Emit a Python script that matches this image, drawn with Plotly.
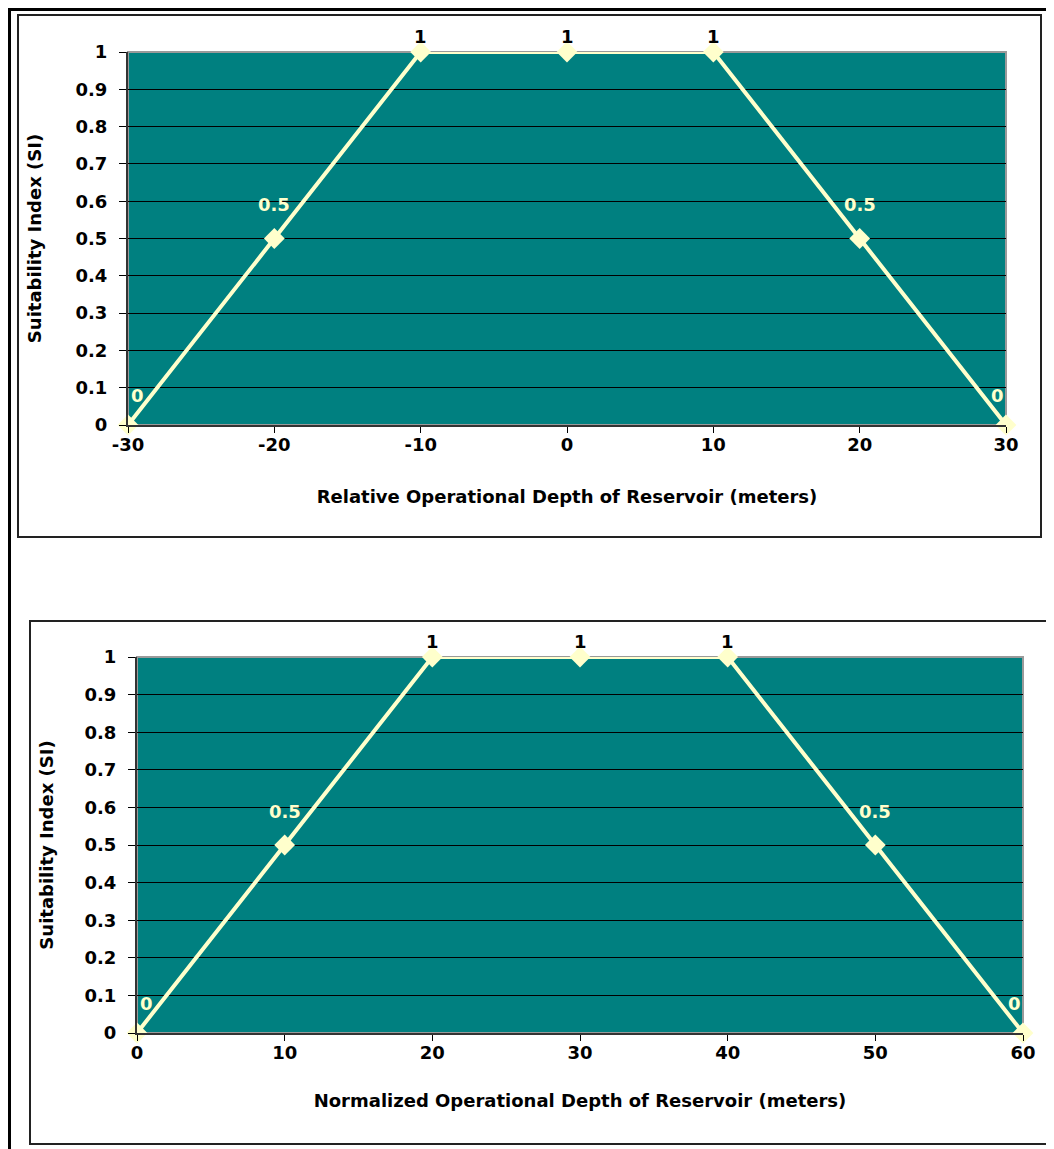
import plotly.graph_objects as go

# data
x_relative = [-30, -20, -10, 0, 10, 20, 30]
x_normalized = [0, 10, 20, 30, 40, 50, 60]
si_values = [0, 0.5, 1, 1, 1, 0.5, 0]
y_ticks = [0, 0.1, 0.2, 0.3, 0.4, 0.5, 0.6, 0.7, 0.8, 0.9, 1]
x_title_top = "Relative Operational Depth of Reservoir (meters)"
x_title_bottom = "Normalized Operational Depth of Reservoir (meters)"
y_title = "Suitability Index (SI)"

W, H = 1054, 1149
OFF = 8  # the page body adds an 8px margin around the figure
FONT = "DejaVu Sans, Arial, sans-serif"
TEAL = "#008080"
PALE = "#FFFFCC"


def px(x):
    return (x - OFF) / W


def py(y):
    return 1 - (y - OFF) / H


def label_color(v):
    return "#000000" if v >= 1 else PALE


fig = go.Figure()

# plot boxes in page pixels: (left, top, right, bottom)
plots = [
    dict(xs=x_relative, rng=[-30, 30], box=(128, 52, 1006, 425), title=x_title_top,
         ax="x", ay="y", xstand=37, ystand=29),
    dict(xs=x_normalized, rng=[0, 60], box=(137, 657, 1023, 1033), title=x_title_bottom,
         ax="x2", ay="y2", xstand=33, ystand=26),
]

for p in plots:
    fig.add_trace(go.Scatter(
        x=p["xs"], y=si_values,
        mode="lines+markers",
        line=dict(color=PALE, width=4),
        marker=dict(symbol="diamond", size=16, color=PALE),
        cliponaxis=False,
        xaxis=p["ax"], yaxis=p["ay"],
        showlegend=False,
        hoverinfo="skip",
    ))
    n = len(p["xs"])
    for j, (xv, yv) in enumerate(zip(p["xs"], si_values)):
        if yv >= 1:
            ys = 16
        elif yv > 0:
            ys = 34
        else:
            ys = 30
        xs = 9 if j == 0 else (-9 if j == n - 1 else 0)
        fig.add_annotation(
            x=xv, y=yv, xref=p["ax"], yref=p["ay"],
            text=f"<b>{yv:g}</b>", showarrow=False,
            xshift=xs, yshift=ys,
            font=dict(family=FONT, size=18, color=label_color(yv)),
        )
    l, t, r, b = p["box"]
    # light gray frame of the plot area (top / right edges)
    fig.add_shape(type="rect", xref="paper", yref="paper",
                  x0=px(l), x1=px(r), y0=py(b), y1=py(t),
                  line=dict(color="#9a9a9a", width=2), layer="below")

suffix = ["", "2"]
for i, p in enumerate(plots):
    l, t, r, b = p["box"]
    fig.layout["xaxis" + suffix[i]] = dict(
        domain=[px(l), px(r)], range=p["rng"], anchor="y" + suffix[i],
        automargin=False,
        tickmode="array", tickvals=p["xs"], ticktext=[f"<b>{v:g}</b>" for v in p["xs"]],
        ticks="outside", ticklen=6, tickcolor="#000", tickwidth=1,
        ticklabelstandoff=-4,
        showline=True, linecolor="#333333", linewidth=2,
        showgrid=False, zeroline=False,
        tickfont=dict(family=FONT, size=18, color="#000"),
        title=dict(text="<b>" + p["title"] + "</b>",
                   font=dict(family=FONT, size=18, color="#000"), standoff=p["xstand"]),
    )
    fig.layout["yaxis" + suffix[i]] = dict(
        domain=[py(b), py(t)], range=[0, 1], anchor="x" + suffix[i],
        automargin=False,
        tickmode="array", tickvals=y_ticks, ticktext=[f"<b>{v:g}</b>" for v in y_ticks],
        ticks="outside", ticklen=7, tickcolor="#000", tickwidth=1,
        ticklabelstandoff=8,
        showline=True, linecolor="#333333", linewidth=2,
        showgrid=True, gridcolor="#000000", gridwidth=1, zeroline=False,
        tickfont=dict(family=FONT, size=18, color="#000"),
        title=dict(text="<b>" + y_title + "</b>",
                   font=dict(family=FONT, size=18, color="#000"), standoff=p["ystand"]),
    )

# chart area boxes and outer frame
fig.add_shape(type="rect", xref="paper", yref="paper",
              x0=px(18), x1=px(1041), y0=py(537), y1=py(15),
              line=dict(color="#222222", width=2))
fig.add_shape(type="rect", xref="paper", yref="paper",
              x0=px(30), x1=px(1053), y0=py(1144), y1=py(621),
              line=dict(color="#222222", width=2))
fig.add_shape(type="line", xref="paper", yref="paper",
              x0=px(9.5), x1=px(9.5), y0=0, y1=1,
              line=dict(color="#000000", width=3))
fig.add_shape(type="line", xref="paper", yref="paper",
              x0=px(9.5), x1=1, y0=py(9.5), y1=py(9.5),
              line=dict(color="#000000", width=3))

fig.update_layout(
    template="none",
    width=W, height=H,
    margin=dict(l=0, r=0, t=0, b=0, autoexpand=False),
    paper_bgcolor="#ffffff",
    plot_bgcolor=TEAL,
    font=dict(family=FONT, color="#000"),
)

fig.write_html("out.html")
